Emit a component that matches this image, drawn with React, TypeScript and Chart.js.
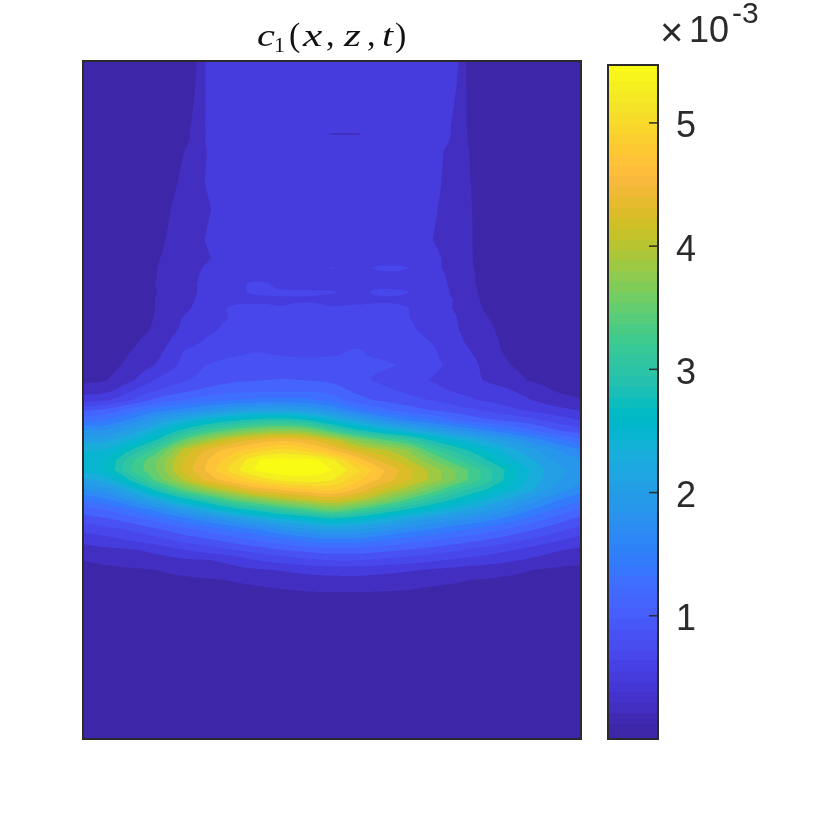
import React, { useEffect, useRef } from "react";
import { Chart, registerables } from "chart.js";

Chart.register(...registerables);

// horizontal grid coordinate (arbitrary units, the axis is hidden)
const xCoords = [0,1,2,3,4,4.5,5,6,7,8,9,10,11,12,13,14,15,15.5,16,17,18,19,20];
// vertical grid coordinate, one per row of the table below (top row first)
const zCoords = [678,619,611,605,599,589,559,529,499,481,471,463,455,447,439,431,421,409,389,374,359,349,339,329,319,309,299,289,279,269,259,249,239,229,219,209,199,189,179,169,159,149,139,0];
// c1 values in units of 1e-3
const c1Rows = [
[.04,.04,.05,.07,.09,.17,.42,.54,.55,.55,.55,.55,.55,.55,.55,.52,.42,.14,.08,.06,.05,.04,.04],
[.05,.05,.06,.09,.15,.23,.42,.52,.53,.53,.53,.53,.53,.53,.52,.49,.36,.17,.1,.07,.05,.05,.05],
[.05,.05,.06,.09,.16,.24,.42,.52,.53,.53,.53,.52,.52,.53,.52,.49,.35,.17,.1,.07,.05,.05,.05],
[.05,.05,.06,.09,.16,.24,.41,.52,.53,.53,.53,.38,.37,.53,.52,.47,.36,.18,.1,.07,.05,.05,.05],
[.05,.05,.06,.1,.17,.24,.42,.52,.53,.53,.53,.52,.52,.53,.52,.49,.34,.18,.11,.07,.05,.05,.05],
[.05,.05,.07,.1,.19,.25,.4,.5,.52,.52,.52,.5,.52,.52,.5,.44,.33,.2,.12,.07,.06,.05,.05],
[.05,.06,.08,.13,.22,.33,.41,.48,.5,.5,.5,.5,.5,.5,.49,.44,.31,.21,.13,.08,.06,.05,.05],
[.05,.06,.09,.15,.25,.32,.38,.48,.5,.5,.5,.5,.5,.5,.48,.42,.3,.22,.14,.08,.06,.05,.05],
[.06,.07,.1,.17,.27,.34,.41,.5,.5,.48,.47,.47,.5,.5,.48,.4,.29,.22,.15,.09,.07,.06,.06],
[.06,.07,.1,.19,.27,.33,.38,.5,.54,.52,.5,.5,.5,.52,.5,.44,.31,.22,.16,.09,.07,.06,.06],
[.06,.08,.1,.2,.29,.36,.42,.5,.54,.53,.52,.6,.55,.62,.6,.44,.33,.23,.16,.1,.08,.07,.06],
[.07,.08,.11,.2,.3,.37,.45,.52,.54,.54,.53,.54,.54,.55,.54,.48,.32,.24,.17,.1,.08,.07,.07],
[.07,.08,.11,.21,.33,.39,.44,.54,.62,.56,.54,.55,.55,.57,.54,.46,.35,.24,.17,.1,.08,.07,.07],
[.07,.08,.11,.2,.32,.38,.48,.56,.61,.61,.61,.6,.58,.61,.6,.5,.35,.26,.18,.11,.09,.08,.07],
[.07,.08,.11,.21,.33,.4,.5,.56,.57,.58,.58,.57,.56,.58,.56,.46,.38,.27,.19,.11,.09,.08,.07],
[.07,.09,.12,.21,.35,.42,.52,.61,.62,.6,.63,.6,.62,.62,.6,.5,.37,.28,.2,.12,.09,.08,.07],
[.08,.09,.13,.22,.4,.46,.54,.6,.62,.62,.6,.62,.61,.6,.6,.52,.4,.3,.23,.13,.1,.09,.08],
[.08,.1,.14,.24,.43,.5,.56,.63,.65,.66,.65,.66,.66,.64,.62,.54,.41,.34,.28,.14,.1,.09,.08],
[.09,.12,.2,.34,.58,.62,.66,.74,.78,.75,.72,.76,.8,.74,.68,.62,.45,.4,.34,.17,.11,.1,.09],
[.1,.14,.26,.42,.64,.72,.8,.85,.85,.86,.86,.84,.8,.82,.76,.65,.52,.45,.38,.22,.13,.1,.1],
[.15,.2,.38,.62,.76,.82,.88,.95,.98,1,.98,.95,.85,.75,.66,.58,.48,.44,.4,.3,.18,.13,.12],
[.28,.34,.58,.78,.92,.98,1.03,1.1,1.13,1.15,1.15,1.08,.93,.84,.75,.66,.56,.52,.48,.42,.3,.18,.14],
[.5,.58,.8,1.05,1.2,1.25,1.3,1.38,1.42,1.45,1.42,1.3,1.08,.95,.86,.78,.68,.63,.58,.5,.4,.28,.2],
[.95,1.05,1.3,1.5,1.65,1.72,1.8,1.95,2.05,2.05,1.95,1.75,1.45,1.25,1.1,.98,.88,.83,.78,.66,.55,.46,.38],
[1.3,1.4,1.65,2,2.25,2.38,2.5,2.7,2.85,2.9,2.75,2.4,2.1,1.8,1.55,1.4,1.2,1.12,1.05,.95,.85,.7,.58],
[1.75,1.8,2.05,2.4,2.8,2.98,3.15,3.4,3.6,3.7,3.6,3.2,2.8,2.5,2.25,2,1.8,1.7,1.6,1.4,1.2,1,.85],
[2.1,2.15,2.4,2.8,3.4,3.65,3.85,4.2,4.4,4.5,4.4,4.1,3.7,3.4,3.15,2.75,2.45,2.32,2.2,1.95,1.7,1.45,1.25],
[2.35,2.42,2.8,3.3,4,4.2,4.4,4.65,4.85,5,4.85,4.55,4.2,4,3.75,3.25,2.9,2.75,2.6,2.3,2.05,1.8,1.6],
[2.48,2.62,3.15,3.6,4.15,4.35,4.55,4.9,5.33,5.42,5.42,5.2,4.7,4.3,4,3.6,3.2,3.02,2.85,2.5,2.2,1.95,1.8],
[2.45,2.65,3.2,3.6,4.2,4.4,4.6,5.05,5.38,5.48,5.48,5.35,5,4.6,4.25,3.9,3.55,3.35,3.15,2.75,2.35,2.05,1.92],
[2.1,2.3,2.85,3.45,3.95,4.2,4.4,4.7,5,5.2,5.25,5.15,4.8,4.5,4.2,3.9,3.55,3.35,3.15,2.72,2.32,2.02,1.85],
[1.75,1.9,2.3,2.85,3.4,3.6,3.8,4.1,4.4,4.55,4.7,4.78,4.5,4.15,3.85,3.5,3.1,2.95,2.8,2.5,2.2,1.9,1.65],
[1.4,1.55,1.85,2.2,2.6,2.8,3,3.4,3.65,3.88,4.05,4.18,4,3.7,3.35,3,2.7,2.55,2.42,2.15,1.88,1.6,1.4],
[1.1,1.2,1.4,1.65,1.95,2.1,2.25,2.6,2.85,3.1,3.3,3.5,3.3,3,2.72,2.48,2.25,2.15,2.05,1.82,1.58,1.35,1.15],
[.85,.95,1.08,1.25,1.45,1.55,1.65,1.85,2.08,2.28,2.45,2.62,2.5,2.3,2.1,1.92,1.78,1.72,1.65,1.48,1.28,1.08,.9],
[.64,.72,.82,.95,1.1,1.18,1.25,1.4,1.55,1.75,1.9,2,1.95,1.82,1.66,1.55,1.42,1.36,1.3,1.15,1,.85,.7],
[.44,.52,.62,.72,.85,.9,.95,1.08,1.2,1.32,1.45,1.52,1.5,1.4,1.3,1.2,1.1,1.05,1,.88,.76,.62,.5],
[.33,.35,.38,.46,.58,.63,.68,.78,.88,.98,1.05,1.1,1.1,1.05,.98,.9,.82,.77,.72,.62,.52,.42,.35],
[.2,.23,.27,.31,.36,.38,.39,.46,.6,.68,.75,.8,.8,.75,.7,.64,.56,.53,.5,.44,.36,.28,.24],
[.16,.17,.18,.2,.25,.27,.29,.33,.37,.41,.46,.48,.49,.46,.42,.37,.33,.31,.3,.26,.2,.17,.15],
[.13,.13,.14,.15,.16,.17,.18,.21,.25,.28,.31,.33,.33,.31,.28,.25,.22,.2,.19,.16,.14,.13,.12],
[.11,.11,.11,.12,.12,.125,.13,.14,.16,.19,.21,.22,.22,.21,.2,.17,.15,.14,.13,.12,.11,.11,.1],
[.09,.09,.09,.09,.09,.09,.09,.1,.1,.11,.12,.12,.12,.12,.11,.1,.1,.09,.09,.09,.09,.09,.09],
[.03,.03,.03,.03,.03,.03,.03,.03,.03,.03,.03,.03,.03,.03,.03,.03,.03,.03,.03,.03,.03,.03,.03],
];

const colorbarTicks = [1, 2, 3, 4, 5];
const colorMin = 0;
const colorMax = 5.47;
const levelStep = 0.198;
const levelCount = 28;

const parula = [
[.2422,.1504,.6603],[.2504,.165,.7076],[.2578,.1818,.7511],[.2647,.1978,.7952],[.2706,.2147,.8364],[.2751,.2342,.871],[.2783,.2559,.8991],[.2803,.2782,.9221],
[.2813,.3006,.9414],[.281,.3228,.9579],[.2795,.3447,.9717],[.276,.3667,.9829],[.2699,.3892,.9906],[.2602,.4123,.9952],[.244,.4358,.9988],[.2206,.4603,.9973],
[.1963,.4847,.9892],[.1834,.5074,.9798],[.1786,.5289,.9682],[.1764,.5499,.952],[.1687,.5703,.9359],[.154,.5902,.9218],[.146,.6091,.9079],[.138,.6276,.8973],
[.1248,.6459,.8883],[.1113,.6635,.8763],[.0952,.6798,.8598],[.0689,.6948,.8394],[.0297,.7082,.8163],[.0036,.7203,.7917],[.0067,.7312,.766],[.0433,.7411,.7394],
[.0964,.75,.712],[.1408,.7584,.6842],[.1717,.767,.6554],[.1938,.7758,.6251],[.2161,.7843,.5923],[.247,.7918,.5567],[.2906,.7973,.5188],[.3406,.8008,.4789],
[.3909,.8029,.4354],[.4456,.8024,.3909],[.5044,.7993,.348],[.5616,.7942,.3045],[.6174,.7876,.2612],[.672,.7793,.2227],[.7242,.7698,.191],[.7738,.7598,.1646],
[.8203,.7498,.1535],[.8634,.7406,.1596],[.9035,.733,.1774],[.9393,.7288,.21],[.9728,.7298,.2394],[.9956,.7434,.2371],[.997,.7659,.2199],[.9952,.7861,.1999],
[.9892,.8136,.1885],[.9786,.8386,.1766],[.9676,.8639,.1643],[.961,.889,.1537],[.9597,.9135,.1423],[.9628,.9373,.1265],[.9691,.9606,.1064],[.9769,.9839,.0805],
];

const rgb = (c: number[]) => c.map((v) => Math.round(v * 255));
const css = (c: number[]) => `rgb(${rgb(c).join(",")})`;
const INK = "#2b2b2b";

function bracket(list: number[], v: number) {
  const desc = list[0] > list[list.length - 1];
  let i = 0;
  while (i < list.length - 2 && (desc ? list[i + 1] > v : list[i + 1] < v)) i++;
  const f = (v - list[i]) / (list[i + 1] - list[i]);
  return [i, Math.max(0, Math.min(1, f))];
}

// Contour rendering: smooth along a row (clamped Hermite), linear between rows.
function along(row: number[], c: number, f: number) {
  const xs = xCoords;
  const last = xs.length - 1;
  const p0 = c > 0 ? c - 1 : c;
  const p3 = c + 1 < last ? c + 2 : c + 1;
  const h = xs[c + 1] - xs[c];
  const m0 = ((row[c + 1] - row[p0]) / (xs[c + 1] - xs[p0])) * h;
  const m1 = ((row[p3] - row[c]) / (xs[p3] - xs[c])) * h;
  const a = row[c];
  const b = row[c + 1];
  const t2 = f * f;
  const t3 = t2 * f;
  const v = (2 * t3 - 3 * t2 + 1) * a + (t3 - 2 * t2 + f) * m0 + (-2 * t3 + 3 * t2) * b + (t3 - t2) * m1;
  return Math.max(Math.min(a, b), Math.min(Math.max(a, b), v));
}

const contourPlugin = {
  id: "contourFill",
  beforeDatasetsDraw(chart: any) {
    const { ctx, chartArea: a, scales } = chart;
    const ss = 2;
    const w = Math.round(a.right - a.left) * ss;
    const h = Math.round(a.bottom - a.top) * ss;
    const off = document.createElement("canvas");
    off.width = w;
    off.height = h;
    const octx = off.getContext("2d")!;
    const img = octx.createImageData(w, h);
    const xs: number[][] = [];
    for (let px = 0; px < w; px++) xs.push(bracket(xCoords, scales.x.getValueForPixel(a.left + (px + 0.5) / ss)));
    const rows = c1Rows.map((row) => xs.map(([c, fc]) => along(row, c, fc)));
    for (let py = 0; py < h; py++) {
      const [r, fr] = bracket(zCoords, scales.y.getValueForPixel(a.top + (py + 0.5) / ss));
      for (let px = 0; px < w; px++) {
        const v = rows[r][px] * (1 - fr) + rows[r + 1][px] * fr;
        const k = Math.max(0, Math.min(levelCount - 1, Math.floor(v / levelStep)));
        const col = rgb(parula[Math.round((k / (levelCount - 1)) * (parula.length - 1))]);
        const o = (py * w + px) * 4;
        img.data[o] = col[0];
        img.data[o + 1] = col[1];
        img.data[o + 2] = col[2];
        img.data[o + 3] = 255;
      }
    }
    octx.putImageData(img, 0, 0);
    ctx.save();
    ctx.imageSmoothingEnabled = true;
    ctx.drawImage(off, a.left, a.top, a.right - a.left, a.bottom - a.top);
    ctx.restore();
  },
  afterDatasetsDraw(chart: any) {
    const { ctx, chartArea: a } = chart;
    ctx.save();
    ctx.strokeStyle = INK;
    ctx.lineWidth = 2;
    ctx.strokeRect(a.left, a.top, a.right - a.left, a.bottom - a.top);
    ctx.fillStyle = "#111";
    ctx.textBaseline = "alphabetic";
    const it = "italic 31px 'Liberation Serif'";
    const up = "34px 'Liberation Serif'";
    const parts: [string, string, number, number, number][] = [
      ["c", it, 257, 46, 1.3],
      ["1", "22px 'Liberation Serif'", 274, 52, 1],
      ["(", up, 289, 46, 1],
      ["x", it, 303, 46, 1.4],
      [",", up, 326, 46, 1],
      ["z", it, 344, 46, 1.4],
      [",", up, 367, 46, 1],
      ["t", it, 382, 46, 1.3],
      [")", up, 395, 46, 1],
    ];
    for (const [s, f, x, y, sx] of parts) {
      ctx.save();
      ctx.font = f;
      ctx.translate(x, y);
      ctx.scale(sx, 1);
      ctx.fillText(s, 0, 0);
      ctx.restore();
    }
    ctx.restore();
  },
};

const colorbarPlugin = {
  id: "colorbarDecor",
  afterDatasetsDraw(chart: any) {
    const { ctx, chartArea: a, scales } = chart;
    ctx.save();
    ctx.strokeStyle = INK;
    ctx.lineWidth = 2;
    ctx.strokeRect(a.left, a.top, a.right - a.left, a.bottom - a.top);
    ctx.lineWidth = 1.5;
    for (const t of colorbarTicks) {
      const y = scales.y.getPixelForValue(t);
      ctx.beginPath();
      ctx.moveTo(a.right - 9, y);
      ctx.lineTo(a.right, y);
      ctx.stroke();
    }
    ctx.fillStyle = INK;
    ctx.font = "40px 'Liberation Sans'";
    ctx.fillText("\u00d7", 660, 46);
    ctx.font = "36px 'Liberation Sans'";
    ctx.fillText("10", 689, 42);
    ctx.font = "30px 'Liberation Sans'";
    ctx.fillText("-3", 732, 23);
    ctx.restore();
  },
};

export default function App() {
  const mainRef = useRef<HTMLCanvasElement>(null);
  const barRef = useRef<HTMLCanvasElement>(null);

  useEffect(() => {
    const points: { x: number; y: number }[] = [];
    zCoords.forEach((z) => xCoords.forEach((x) => points.push({ x, y: z })));

    const main = new Chart(mainRef.current!, {
      type: "scatter",
      data: { datasets: [{ label: "c1", data: points, pointRadius: 0 }] },
      options: {
        animation: false,
        responsive: false,
        devicePixelRatio: 1,
        layout: { padding: { left: 83, right: 249, top: 61, bottom: 91 } },
        plugins: { legend: { display: false }, title: { display: false }, tooltip: { enabled: false } },
        scales: {
          x: { type: "linear", min: 0, max: 20, display: false },
          y: { type: "linear", min: 0, max: 678, display: false },
        },
      },
      plugins: [contourPlugin],
    } as any);

    const n = parula.length;
    const span = (colorMax - colorMin) / n;
    const bar = new Chart(barRef.current!, {
      type: "bar",
      data: {
        labels: ["c"],
        datasets: parula.map((c, i) => ({
          label: `level ${i}`,
          data: [[colorMin + i * span, colorMin + (i + 1) * span + (i < n - 1 ? span * 0.4 : 0)]],
          backgroundColor: css(c),
          borderWidth: 0,
          barPercentage: 1,
          categoryPercentage: 1,
          grouped: false,
        })),
      },
      options: {
        animation: false,
        responsive: false,
        devicePixelRatio: 1,
        layout: { padding: { left: 608, right: 0, top: 65, bottom: 91 } },
        plugins: { legend: { display: false }, title: { display: false }, tooltip: { enabled: false } },
        scales: {
          x: { display: false, grid: { display: false } },
          y: {
            type: "linear",
            position: "right",
            min: colorMin,
            max: colorMax,
            grid: { display: false, drawTicks: false },
            border: { display: false },
            afterFit: (s: any) => { s.width = 172; },
            afterBuildTicks: (s: any) => { s.ticks = colorbarTicks.map((value) => ({ value })); },
            ticks: {
              color: INK,
              padding: 18,
              font: { family: "'Liberation Sans'", size: 36, lineHeight: "9px" },
              callback: (v: number) => ["", String(v)],
            },
          },
        },
      },
      plugins: [colorbarPlugin],
    } as any);

    return () => {
      main.destroy();
      bar.destroy();
    };
  }, []);

  const style: React.CSSProperties = { position: "fixed", left: 0, top: 0, display: "block" };
  return (
    <div style={{ width: 830, height: 830 }}>
      <canvas ref={mainRef} width={830} height={830} style={style} />
      <canvas ref={barRef} width={830} height={830} style={{ ...style, pointerEvents: "none" }} />
    </div>
  );
}
